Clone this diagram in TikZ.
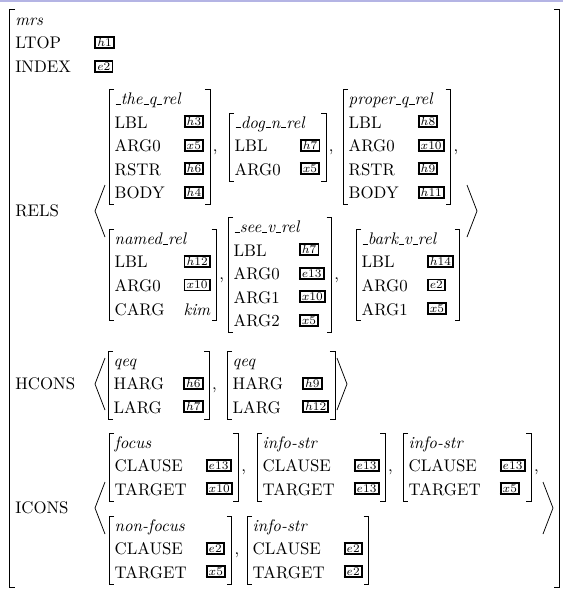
\documentclass[tikz,border=0pt]{standalone}
\usepackage{tikz}
\usetikzlibrary{positioning}
\renewcommand{\arraystretch}{1.167}
\definecolor{barblue}{RGB}{180,180,228}
\tikzset{
  avm/.style   = {anchor=west, inner xsep=3.2pt, inner ysep=-1pt},
  brk/.style   = {line width=0.5pt},
  ang/.style   = {line width=0.45pt},
  feat/.style  = {anchor=base west, inner sep=0pt},
  comma/.style = {anchor=base west, inner sep=0pt},
}
\newcommand{\coref}[1]{\raisebox{1.5pt}{\setlength{\fboxrule}{1.1pt}\setlength{\fboxsep}{0pt}%
  \fbox{\hspace{0.7pt}\rule[-0.4pt]{0pt}{5.5pt}{\scriptsize$#1$}\hspace{0.7pt}}}}
\newcommand{\us}{\leavevmode\kern.06em\vbox{\hrule width.3em height 0.45pt}}
\newcommand{\typ}[1]{\multicolumn{2}{@{}l@{}}{\textit{#1}}}
\newenvironment{feats}{\begin{tabular}{@{}l@{\hspace{11.3pt}}l@{}}}{\end{tabular}}
\newcommand{\sqbr}[1]{%
  \draw[brk] ([xshift=3pt]#1.north west) -- (#1.north west) -- (#1.south west) -- ([xshift=3pt]#1.south west);
  \draw[brk] ([xshift=-3pt]#1.north east) -- (#1.north east) -- (#1.south east) -- ([xshift=-3pt]#1.south east);}
\newcommand{\avmopen}[2]{\draw[ang] (#1+10,#2-26) -- (#1,#2) -- (#1+10,#2+26);}
\newcommand{\avmclose}[2]{\draw[ang] (#1-10,#2-26) -- (#1,#2) -- (#1-10,#2+26);}

\begin{document}
\begin{tikzpicture}[x=0.595pt, y=-0.595pt]
  \useasboundingbox (0,0) rectangle (563,589);
  \fill[white] (0,0) rectangle (563,589);
  \fill[barblue] (0,0) rectangle (563,2.2);

  % outer mrs
  \draw[brk] (15,9) -- (9,9) -- (9,587) -- (15,587);
  \draw[brk] (554,9) -- (559,9) -- (559,587) -- (554,587);
  \node[feat] (mrs)   at (15,25.7)  {\textit{mrs}};
  \node[feat] (ltop)  at (15,48.7)  {LTOP};
  \node[feat] (index) at (15,72.7)  {INDEX};
  \node[feat] (rels)  at (15,216.7) {RELS};
  \node[feat] (hcons) at (15,389.7) {HCONS};
  \node[feat] (icons) at (15,513.7) {ICONS};
  \node[feat] (ltop-v)  at (94,48.7) {\coref{h1}};
  \node[feat] (index-v) at (94,72.7) {\coref{e2}};

  % RELS
  \node[avm] (theq) at (109,147) {\begin{feats}
    \typ{\us the\us q\us rel}\\ LBL & \coref{h3}\\ ARG0 & \coref{x5}\\ RSTR & \coref{h6}\\ BODY & \coref{h4}
  \end{feats}};
  \node[avm] (dog) at (229,147) {\begin{feats}
    \typ{\us dog\us n\us rel}\\ LBL & \coref{h7}\\ ARG0 & \coref{x5}
  \end{feats}};
  \node[avm] (proper) at (343,147) {\begin{feats}
    \typ{proper\us q\us rel}\\ LBL & \coref{h8}\\ ARG0 & \coref{x10}\\ RSTR & \coref{h9}\\ BODY & \coref{h11}
  \end{feats}};
  \node[avm] (named) at (109,275) {\begin{feats}
    \typ{named\us rel}\\ LBL & \coref{h12}\\ ARG0 & \coref{x10}\\ CARG & \textit{kim}
  \end{feats}};
  \node[avm] (see) at (228,275) {\begin{feats}
    \typ{\us see\us v\us rel}\\ LBL & \coref{h7}\\ ARG0 & \coref{e13}\\ ARG1 & \coref{x10}\\ ARG2 & \coref{x5}
  \end{feats}};
  \node[avm] (bark) at (356,275) {\begin{feats}
    \typ{\us bark\us v\us rel}\\ LBL & \coref{h14}\\ ARG0 & \coref{e2}\\ ARG1 & \coref{x5}
  \end{feats}};
  \avmopen{95}{211}
  \avmclose{477}{211}

  % HCONS
  \node[avm] (qeqa) at (108,385) {\begin{feats}
    \typ{qeq}\\ HARG & \coref{h6}\\ LARG & \coref{h7}
  \end{feats}};
  \node[avm] (qeqb) at (227,385) {\begin{feats}
    \typ{qeq}\\ HARG & \coref{h9}\\ LARG & \coref{h12}
  \end{feats}};
  \avmopen{95}{384}
  \avmclose{347}{384}

  % ICONS
  \node[avm] (focus) at (109,467) {\begin{feats}
    \typ{focus}\\ CLAUSE & \coref{e13}\\ TARGET & \coref{x10}
  \end{feats}};
  \node[avm] (infoa) at (257,467) {\begin{feats}
    \typ{info-str}\\ CLAUSE & \coref{e13}\\ TARGET & \coref{e13}
  \end{feats}};
  \node[avm] (infob) at (403,467) {\begin{feats}
    \typ{info-str}\\ CLAUSE & \coref{e13}\\ TARGET & \coref{x5}
  \end{feats}};
  \node[avm] (nfocus) at (109,550) {\begin{feats}
    \typ{non-focus}\\ CLAUSE & \coref{e2}\\ TARGET & \coref{x5}
  \end{feats}};
  \node[avm] (infoc) at (247,550) {\begin{feats}
    \typ{info-str}\\ CLAUSE & \coref{e2}\\ TARGET & \coref{e2}
  \end{feats}};
  \avmopen{95}{508}
  \avmclose{553}{508}

  \foreach \n in {theq,dog,proper,named,see,bark,qeqa,qeqb,focus,infoa,infob,nfocus,infoc}
    {\sqbr{\n}}
  \foreach \n in {theq,dog,proper,named,see,qeqa,focus,infoa,infob,nfocus}
    \node[comma] (\n-c) at ([xshift=1.5pt, yshift=-2.5pt]\n.east) {,};
\end{tikzpicture}
\end{document}
